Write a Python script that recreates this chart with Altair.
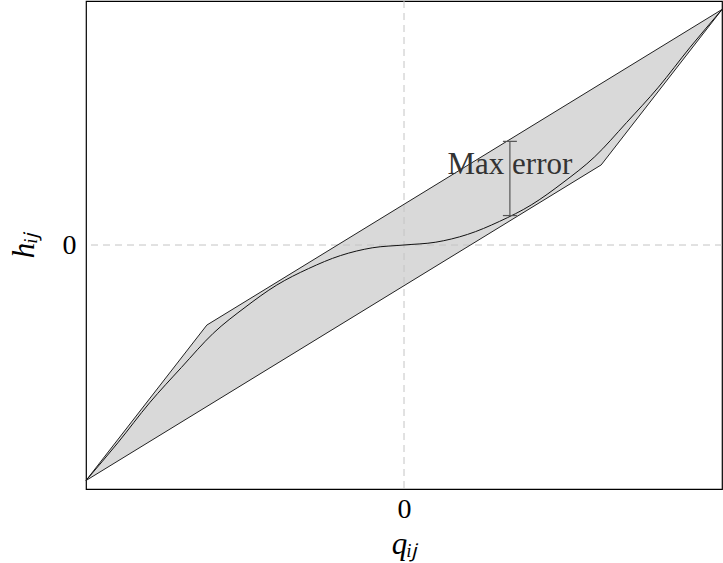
import altair as alt
import pandas as pd

# smooth curve h = f(q)
curve_q = [-1.0, -0.9, -0.8, -0.7, -0.6, -0.5, -0.4, -0.3, -0.2, -0.1, 0.0,
           0.1, 0.2, 0.3, 0.4, 0.5, 0.6, 0.7, 0.8, 0.9, 1.0]
curve_h = [-1.0, -0.84, -0.67, -0.52, -0.375, -0.265, -0.17, -0.1, -0.045, -0.012, 0.0,
           0.012, 0.045, 0.1, 0.17, 0.265, 0.375, 0.52, 0.67, 0.84, 1.0]

# outer polygon (shaded region)
band_q = [-1.0, -0.62, 0.62, 1.0]
band_upper = [-1.0, -0.34, 0.686, 1.0]
band_lower = [-1.0, -0.686, 0.34, 1.0]

# polygon outline vertices in drawing order
poly_q = [-1.0, -0.62, 1.0, 0.62, -1.0]
poly_h = [-1.0, -0.34, 1.0, 0.34, -1.0]

# max error marker
err_q = 0.333
err_lo = 0.125
err_hi = 0.44
cap_half = 0.022
err_label = "Max error"
label_h = 0.34

x_dom = [-1.0, 1.0]
y_dom = [-1.036, 1.036]

FONT = "Liberation Serif"

curve_df = pd.DataFrame({"q": curve_q, "h": curve_h})
band_df = pd.DataFrame({"q": band_q, "hi": band_upper, "lo": band_lower})
poly_df = pd.DataFrame({"q": poly_q, "h": poly_h, "o": list(range(len(poly_q)))})
err_df = pd.DataFrame({"q": [err_q], "lo": [err_lo], "hi": [err_hi],
                       "ql": [err_q - cap_half], "qr": [err_q + cap_half],
                       "lab": [err_label], "ly": [label_h]})
zero_df = pd.DataFrame({"v": [0.0]})

xs = alt.Scale(domain=x_dom, nice=False, zero=False)
ys = alt.Scale(domain=y_dom, nice=False, zero=False)

x_axis = alt.Axis(values=[0], format="d", title="qᵢⱼ", grid=False, domain=False, ticks=False,
                  labelFont=FONT, labelFontSize=28, labelColor="black", labelPadding=6,
                  titleFont=FONT, titleFontSize=31, titleFontStyle="italic",
                  titleFontWeight="normal", titleColor="black", titlePadding=6)
y_axis = alt.Axis(values=[0], format="d", title="hᵢⱼ", grid=False, domain=False, ticks=False,
                  labelFont=FONT, labelFontSize=28, labelColor="black", labelPadding=10,
                  titleFont=FONT, titleFontSize=31, titleFontStyle="italic",
                  titleFontWeight="normal", titleColor="black", titlePadding=22)

band = alt.Chart(band_df).mark_area(color="#d9d9d9", opacity=1, interpolate="linear").encode(
    x=alt.X("q:Q", scale=xs, axis=x_axis),
    y=alt.Y("hi:Q", scale=ys, axis=y_axis),
    y2="lo:Q",
)

vgrid = alt.Chart(zero_df).mark_rule(color="#c4c4c4", strokeDash=[7, 5], strokeWidth=1).encode(
    x=alt.X("v:Q", scale=xs)
)
hgrid = alt.Chart(zero_df).mark_rule(color="#c4c4c4", strokeDash=[7, 5], strokeWidth=1).encode(
    y=alt.Y("v:Q", scale=ys)
)

poly = alt.Chart(poly_df).mark_line(color="#222222", strokeWidth=1, interpolate="linear").encode(
    x=alt.X("q:Q", scale=xs),
    y=alt.Y("h:Q", scale=ys),
    order="o:Q",
)

curve = alt.Chart(curve_df).mark_line(color="#111111", strokeWidth=1, interpolate="monotone").encode(
    x=alt.X("q:Q", scale=xs),
    y=alt.Y("h:Q", scale=ys),
)

err_v = alt.Chart(err_df).mark_rule(color="#555555", strokeWidth=1.2).encode(
    x=alt.X("q:Q", scale=xs), y=alt.Y("lo:Q", scale=ys), y2="hi:Q"
)
cap_top = alt.Chart(err_df).mark_rule(color="#555555", strokeWidth=1.2).encode(
    x=alt.X("ql:Q", scale=xs), x2="qr:Q", y=alt.Y("hi:Q", scale=ys)
)
cap_bot = alt.Chart(err_df).mark_rule(color="#555555", strokeWidth=1.2).encode(
    x=alt.X("ql:Q", scale=xs), x2="qr:Q", y=alt.Y("lo:Q", scale=ys)
)
label = alt.Chart(err_df).mark_text(font=FONT, fontSize=31, color="#333333",
                                    align="center", baseline="middle").encode(
    x=alt.X("q:Q", scale=xs), y=alt.Y("ly:Q", scale=ys), text="lab:N"
)

chart = alt.layer(band, vgrid, hgrid, poly, curve, err_v, cap_top, cap_bot, label).properties(
    width=636, height=488,
    autosize=alt.AutoSizeParams(type="none"),
    padding={"left": 86, "top": 1, "right": 1, "bottom": 74},
    background="white",
).configure_view(stroke="black", strokeWidth=1.2)

chart.save("out.html", embed_options={"renderer": "svg", "actions": False})
